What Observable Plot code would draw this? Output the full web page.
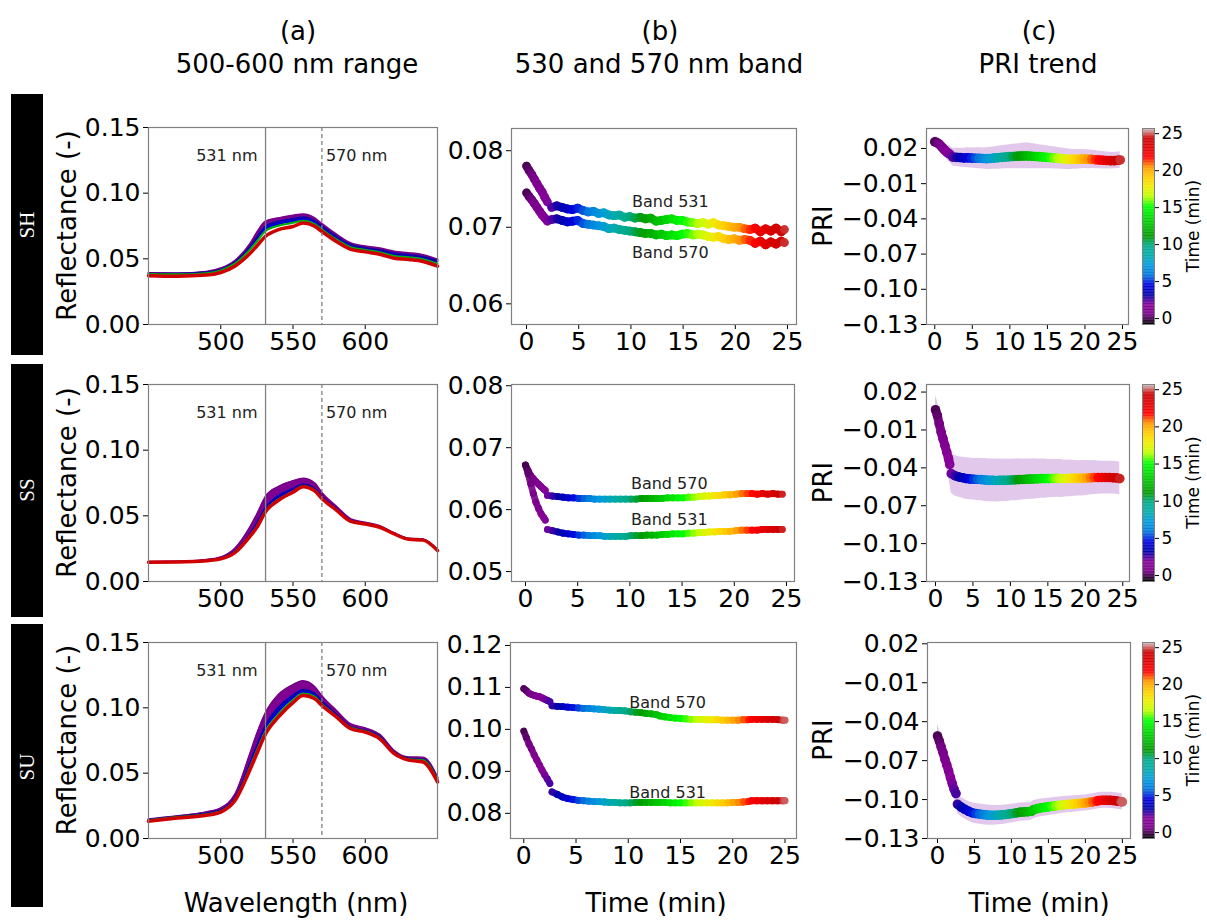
<!DOCTYPE html>
<html><head><meta charset="utf-8">
<script src="https://cdn.jsdelivr.net/npm/d3@7"></script>
<script src="https://cdn.jsdelivr.net/npm/@observablehq/plot@0.6"></script>
<style>
body{margin:0;background:#fff;}
#root{position:relative;width:1207px;height:921px;overflow:hidden;background:#fff;font-family:"DejaVu Sans";}
#root svg{max-width:none;}
</style></head><body><div id="root"></div>
<script>
// ---------- Column (a): spectra (wavelength grid + curves at t = 0, 3, 10, 24 min) ----------
const wl = [450, 470, 490, 500, 510, 520, 525, 531, 540, 550, 557, 565, 570, 580, 590, 600, 610, 620, 630, 640, 650];
const specTimes = [0, 3, 10, 24];
const shR0  = [0.0392,0.0390,0.0402,0.0428,0.0488,0.0610,0.0700,0.0785,0.0810,0.0830,0.0840,0.0810,0.0766,0.0686,0.0620,0.0596,0.0580,0.0556,0.0545,0.0530,0.0495];
const shR3  = [0.0388,0.0386,0.0397,0.0420,0.0475,0.0590,0.0665,0.0750,0.0784,0.0805,0.0817,0.0790,0.0750,0.0670,0.0607,0.0583,0.0567,0.0542,0.0531,0.0516,0.0483];
const shR10 = [0.0385,0.0382,0.0391,0.0412,0.0465,0.0568,0.0632,0.0712,0.0752,0.0774,0.0790,0.0765,0.0725,0.0648,0.0588,0.0568,0.0550,0.0522,0.0512,0.0497,0.0463];
const shR24 = [0.0372,0.0368,0.0376,0.0396,0.0446,0.0538,0.0598,0.0672,0.0722,0.0746,0.0772,0.0748,0.0708,0.0632,0.0572,0.0553,0.0535,0.0505,0.0495,0.0480,0.0445];
const ssR0  = [0.0150,0.0152,0.0166,0.0185,0.0254,0.0410,0.0510,0.0645,0.0722,0.0765,0.0785,0.0748,0.0675,0.0572,0.0475,0.0449,0.0424,0.0369,0.0328,0.0322,0.0242];
const ssR3  = [0.0148,0.0150,0.0161,0.0177,0.0234,0.0362,0.0448,0.0565,0.0655,0.0708,0.0740,0.0708,0.0648,0.0555,0.0465,0.0443,0.0418,0.0365,0.0325,0.0318,0.0238];
const ssR10 = [0.0147,0.0149,0.0159,0.0174,0.0226,0.0345,0.0418,0.0540,0.0625,0.0686,0.0727,0.0693,0.0635,0.0545,0.0460,0.0440,0.0415,0.0363,0.0323,0.0316,0.0236];
const ssR24 = [0.0146,0.0148,0.0158,0.0172,0.0222,0.0340,0.0412,0.0532,0.0618,0.0680,0.0722,0.0690,0.0632,0.0543,0.0458,0.0438,0.0413,0.0362,0.0322,0.0315,0.0235];
const suR0  = [0.0148,0.0172,0.0202,0.0232,0.0340,0.0640,0.0800,0.0960,0.1100,0.1175,0.1205,0.1160,0.1090,0.0978,0.0875,0.0845,0.0795,0.0672,0.0622,0.0620,0.0468];
const suR3  = [0.0143,0.0167,0.0193,0.0218,0.0312,0.0572,0.0715,0.0868,0.1005,0.1098,0.1138,0.1110,0.1052,0.0950,0.0855,0.0828,0.0778,0.0662,0.0612,0.0605,0.0455];
const suR10 = [0.0140,0.0164,0.0186,0.0210,0.0300,0.0540,0.0672,0.0820,0.0952,0.1060,0.1110,0.1085,0.1030,0.0938,0.0848,0.0822,0.0770,0.0656,0.0607,0.0598,0.0448];
const suR24 = [0.0132,0.0157,0.0178,0.0202,0.0292,0.0520,0.0650,0.0800,0.0930,0.1040,0.1094,0.1070,0.1018,0.0930,0.0840,0.0814,0.0763,0.0650,0.0600,0.0585,0.0433];

// ---------- SH: time series ----------
const tSH = [0,0.25,0.5,0.75,1,1.25,1.5,1.75,2,
 2.4,2.9,3.4,3.9,4.4,4.9,5.4,5.9,6.4,6.9,
 7.4,7.9,8.4,8.9,9.4,9.9,10.4,10.9,11.4,11.9,
 12.4,12.9,13.4,13.9,14.4,14.9,15.4,15.9,16.4,16.9,
 17.4,17.9,18.4,18.9,19.4,19.9,20.4,20.9,21.4,21.9,
 22.4,22.9,23.4,23.9,24.4,24.7];
const b531SH = [0.0780,0.0774,0.0769,0.0763,0.0757,0.0751,0.0746,0.0739,0.0733,
 0.0726,0.0728,0.0726,0.0724,0.0723,0.0725,0.0722,0.0720,0.0721,0.0718,
 0.0719,0.0716,0.0715,0.0716,0.0713,0.0714,0.0712,0.0713,0.0711,0.0712,
 0.0708,0.0709,0.0710,0.0711,0.0709,0.0709,0.0707,0.0706,0.0705,0.0706,
 0.0704,0.0706,0.0703,0.0702,0.0701,0.0700,0.0700,0.0698,0.0697,0.0699,
 0.0694,0.0698,0.0695,0.0699,0.0694,0.0697];
const b570SH = [0.0745,0.0740,0.0736,0.0731,0.0726,0.0721,0.0716,0.0712,0.0708,
 0.0710,0.0711,0.0709,0.0707,0.0708,0.0709,0.0705,0.0704,0.0703,0.0702,
 0.0701,0.0698,0.0699,0.0697,0.0696,0.0695,0.0694,0.0693,0.0692,0.0692,
 0.0690,0.0691,0.0689,0.0690,0.0689,0.0691,0.0692,0.0690,0.0691,0.0690,
 0.0688,0.0687,0.0688,0.0685,0.0684,0.0685,0.0683,0.0684,0.0683,0.0679,
 0.0682,0.0677,0.0681,0.0678,0.0682,0.0680];
const priSH = [0.0256,0.0250,0.0242,0.0226,0.0208,0.0190,0.0175,0.0162,0.0152,
 0.0126,0.0124,0.0122,0.0119,0.0120,0.0118,0.0117,0.0116,0.0114,0.0113,
 0.0115,0.0118,0.0121,0.0124,0.0127,0.0130,0.0131,0.0133,0.0135,0.0136,
 0.0136,0.0134,0.0132,0.0130,0.0127,0.0124,0.0122,0.0119,0.0116,0.0113,
 0.0110,0.0107,0.0107,0.0107,0.0109,0.0110,0.0108,0.0107,0.0104,0.0102,
 0.0100,0.0097,0.0096,0.0096,0.0099,0.0102];
const sdSH = [0.0045,0.0048,0.005,0.0053,0.0056,0.006,0.0063,0.0066,0.007,
 0.0075,0.0078,0.008,0.0082,0.0085,0.0085,0.0088,0.009,0.009,0.0092,
 0.0095,0.0095,0.0098,0.010,0.010,0.0102,0.0105,0.0105,0.0108,0.011,
 0.011,0.0108,0.0105,0.0102,0.010,0.0098,0.0095,0.0095,0.0092,0.009,
 0.009,0.0088,0.0085,0.0085,0.0082,0.008,0.008,0.0078,0.0078,0.0075,
 0.0075,0.0073,0.0072,0.007,0.007,0.007];

// ---------- SS: time series ----------
const tSS = [0,0.25,0.5,0.75,1,1.25,1.5,1.75,1.9,
 2.1,2.6,3.1,3.6,4.1,4.6,5.1,5.6,6.1,6.6,
 7.1,7.6,8.1,8.6,9.1,9.6,10.1,10.6,11.1,11.6,
 12.1,12.6,13.1,13.6,14.1,14.6,15.1,15.6,16.1,16.6,
 17.1,17.6,18.1,18.6,19.1,19.6,20.2,20.7,21.2,21.7,
 22.2,22.7,23.2,23.7,24.2,24.6];
const b570SS = [0.0672,0.0663,0.0655,0.0650,0.0645,0.0641,0.0637,0.0633,0.0631,
 0.0623,0.0622,0.0621,0.0620,0.0619,0.0619,0.0618,0.0618,0.0618,0.0617,
 0.0617,0.0617,0.0617,0.0617,0.0617,0.0617,0.0617,0.0617,0.0618,0.0618,
 0.0618,0.0618,0.0618,0.0619,0.0619,0.0619,0.0619,0.0620,0.0620,0.0621,
 0.0622,0.0622,0.0623,0.0623,0.0624,0.0624,0.0625,0.0626,0.0626,0.0626,
 0.0625,0.0626,0.0625,0.0626,0.0625,0.0625];
const b531SS = [0.0672,0.0658,0.0642,0.0626,0.0612,0.0602,0.0593,0.0587,0.0583,
 0.0568,0.0566,0.0564,0.0562,0.0561,0.0560,0.0559,0.0559,0.0558,0.0558,
 0.0558,0.0557,0.0557,0.0557,0.0557,0.0557,0.0558,0.0558,0.0558,0.0559,
 0.0559,0.0559,0.0560,0.0560,0.0561,0.0561,0.0561,0.0562,0.0562,0.0563,
 0.0563,0.0564,0.0564,0.0565,0.0565,0.0565,0.0566,0.0567,0.0567,0.0567,
 0.0567,0.0568,0.0568,0.0568,0.0568,0.0568];
const priSS = [0.0060,0.0015,-0.0051,-0.0117,-0.0169,-0.0222,-0.0275,-0.0328,-0.0373,
 -0.0446,-0.0462,-0.0472,-0.0478,-0.0485,-0.0488,-0.0490,-0.0492,-0.0493,-0.0496,
 -0.0499,-0.0499,-0.0500,-0.0499,-0.0499,-0.0498,-0.0496,-0.0495,-0.0493,-0.0492,
 -0.0490,-0.0489,-0.0488,-0.0487,-0.0485,-0.0485,-0.0485,-0.0484,-0.0483,-0.0484,
 -0.0485,-0.0484,-0.0483,-0.0483,-0.0483,-0.0482,-0.0480,-0.0479,-0.0477,-0.0477,
 -0.0477,-0.0477,-0.0477,-0.0478,-0.0480,-0.0485];
const sdSS = [0.011,0.0115,0.012,0.0125,0.013,0.0135,0.014,0.0145,0.015,
 0.0155,0.016,0.016,0.0162,0.0165,0.0165,0.0165,0.0168,0.0168,0.017,
 0.017,0.017,0.017,0.017,0.0168,0.0168,0.0165,0.0165,0.0165,0.0162,
 0.016,0.016,0.016,0.0158,0.0155,0.0155,0.0152,0.015,0.015,0.015,
 0.0148,0.0145,0.0145,0.0142,0.014,0.014,0.0138,0.0135,0.0135,0.0132,
 0.013,0.013,0.013,0.013,0.013,0.013];

// ---------- SU: time series ----------
const tSU = [0,0.25,0.5,0.75,1,1.25,1.5,1.75,2,2.25,2.5,
 2.7,3.2,3.7,4.2,4.7,5.2,5.7,6.2,6.7,7.2,
 7.7,8.2,8.7,9.2,9.7,10.2,10.7,11.2,11.7,12.2,
 12.7,13.0,13.5,14,14.5,15,15.5,16,16.5,17,
 17.5,18,18.5,19,19.5,20,20.5,21,21.5,21.8,
 22.3,22.8,23.3,23.8,24.3,24.8,25.0];
const b570SU = [0.1097,0.1092,0.1086,0.1083,0.1081,0.1079,0.1078,0.1075,0.1072,0.1069,0.1066,
 0.1056,0.1055,0.1054,0.1053,0.1052,0.1051,0.1050,0.1050,0.1049,0.1048,
 0.1047,0.1046,0.1045,0.1045,0.1044,0.1042,0.1041,0.1040,0.1038,0.1037,
 0.1035,0.1032,0.1030,0.1028,0.1027,0.1026,0.1025,0.1024,0.1024,0.1024,
 0.1023,0.1023,0.1023,0.1022,0.1022,0.1022,0.1022,0.1023,0.1023,0.1024,
 0.1024,0.1024,0.1024,0.1024,0.1023,0.1022,0.1022];
const b531SU = [0.0996,0.0980,0.0965,0.0953,0.0939,0.0927,0.0915,0.0903,0.0892,0.0882,0.0871,
 0.0851,0.0845,0.0839,0.0835,0.0833,0.0831,0.0830,0.0829,0.0828,0.0828,
 0.0827,0.0826,0.0826,0.0825,0.0825,0.0825,0.0826,0.0826,0.0826,0.0826,
 0.0826,0.0826,0.0826,0.0825,0.0825,0.0825,0.0825,0.0825,0.0825,0.0825,
 0.0825,0.0825,0.0825,0.0825,0.0825,0.0826,0.0826,0.0827,0.0828,0.0830,
 0.0830,0.0830,0.0830,0.0830,0.0830,0.0830,0.0830];
const priSU = [-0.0510,-0.0549,-0.0595,-0.0638,-0.0690,-0.0733,-0.0779,-0.0831,-0.0877,-0.0921,-0.0954,
 -0.1036,-0.1058,-0.1075,-0.1090,-0.1102,-0.1108,-0.1112,-0.1116,-0.1119,-0.1121,
 -0.1121,-0.1120,-0.1118,-0.1115,-0.1111,-0.1107,-0.1102,-0.1097,-0.1095,-0.1094,
 -0.1090,-0.1077,-0.1070,-0.1064,-0.1060,-0.1056,-0.1052,-0.1049,-0.1045,-0.1041,
 -0.1038,-0.1036,-0.1034,-0.1031,-0.1028,-0.1026,-0.1022,-0.1018,-0.1012,-0.1008,
 -0.1005,-0.1005,-0.1006,-0.1008,-0.1012,-0.1016,-0.1018];
const sdSU = [0.009,0.0088,0.0086,0.0084,0.0082,0.008,0.0078,0.0076,0.0074,0.0072,0.007,
 0.0072,0.0074,0.0075,0.0076,0.0077,0.0078,0.0078,0.0078,0.0078,0.0077,
 0.0076,0.0075,0.0074,0.0073,0.0072,0.0072,0.0071,0.0070,0.0070,0.0070,
 0.0070,0.0070,0.0069,0.0068,0.0068,0.0067,0.0066,0.0066,0.0065,0.0065,
 0.0064,0.0064,0.0063,0.0063,0.0062,0.0062,0.0062,0.0062,0.0062,0.0062,
 0.0062,0.0062,0.0062,0.0062,0.0062,0.0062,0.0062];

// time where the first (purple) recording segment ends in each row
const segBreaks = [2.2, 2.0, 2.6];

// ---------- labels ----------
const rowNames = ["SH", "SS", "SU"];
const colLetters = ["(a)", "(b)", "(c)"];
const colTitles = ["500-600 nm range", "530 and 570 nm band", "PRI trend"];
const xLabels = ["Wavelength (nm)", "Time (min)", "Time (min)"];
const wlTicks = [500, 550, 600];
const timeTicks = [0, 5, 10, 15, 20, 25];
const reflTicks = [0, 0.05, 0.10, 0.15];
const priTicks = [0.02, -0.01, -0.04, -0.07, -0.10, -0.13];
const cbTicks = [0, 5, 10, 15, 20, 25];

// ---------- colormap (nipy_spectral) ----------
const cbMin = -0.8, cbMax = 25.7;
const nipyColors = ["#000000","#770088","#880099","#0000aa","#0000dd","#0077dd","#0099dd","#00aaaa","#00aa88","#009900","#00bb00","#00dd00","#00ff00","#bbff00","#eeee00","#ffcc00","#ff9900","#ff0000","#dd0000","#cc0000","#cccccc"];
const nipy = d3.scaleLinear()
  .domain(nipyColors.map((_, i) => cbMin + i * (cbMax - cbMin) / 20))
  .range(nipyColors).interpolate(d3.interpolateRgb).clamp(true);

const root = document.getElementById("root");
const f2 = d3.format(".2f");
const fd = d3.format("d");
const FRAME = "#808080";

function panel(frame, m, opts) {
  const {style, ...rest} = opts;
  const svg = Plot.plot({
    width: frame[2] - frame[0] + m.l + m.r,
    height: frame[3] - frame[1] + m.t + m.b,
    marginLeft: m.l, marginRight: m.r, marginTop: m.t, marginBottom: m.b,
    style: Object.assign({fontFamily: "DejaVu Sans", fontSize: "25px", color: "#000", background: "none", overflow: "visible"}, style || {}),
    color: {type: "identity"},
    ...rest
  });
  svg.style.position = "absolute";
  svg.style.left = (frame[0] - m.l) + "px";
  svg.style.top = (frame[1] - m.t) + "px";
  svg.style.maxWidth = "none";
  root.appendChild(svg);
  return svg;
}

// thick connecting segments between consecutive samples (not across the recording break)
function trail(data, yKey, brk, w) {
  const pairs = d3.pairs(data).filter(([a, b]) => !(a.t < brk && b.t > brk));
  return Plot.link(pairs, {
    x1: p => p[0].t, y1: p => p[0][yKey], x2: p => p[1].t, y2: p => p[1][yKey],
    stroke: p => nipy((p[0].t + p[1].t) / 2), strokeWidth: w, strokeLinecap: "round", strokeOpacity: 0.9
  });
}

const mAB = {l: 75, r: 8, t: 8, b: 42};
const mC = {l: 95, r: 8, t: 8, b: 42};
const mCB = {l: 2, r: 40, t: 8, b: 8};

// Column (a)
function colA(frame, curves) {
  const data = wl.map((w, i) => ({w, a: curves[0][i], b: curves[1][i], c: curves[2][i], d: curves[3][i]}));
  const cv = "monotone-x";
  panel(frame, mAB, {
    x: {domain: [450, 650], ticks: wlTicks, tickSize: 5, tickPadding: 3, label: null, tickFormat: fd},
    y: {domain: [0, 0.15], ticks: reflTicks, tickSize: 5, tickPadding: 3, label: null, tickFormat: f2},
    marks: [
      Plot.areaY(data, {x: "w", y1: "a", y2: "b", fill: nipy(1.2), curve: cv}),
      Plot.areaY(data, {x: "w", y1: "b", y2: "c", fill: nipy(4.5), curve: cv}),
      Plot.line(data, {x: "w", y: "a", stroke: nipy(specTimes[0] + 0.6), strokeWidth: 2, curve: cv}),
      Plot.line(data, {x: "w", y: "b", stroke: nipy(specTimes[1]), strokeWidth: 2, curve: cv}),
      Plot.line(data, {x: "w", y: "c", stroke: nipy(specTimes[2] + 2), strokeWidth: 2, curve: cv}),
      Plot.line(data, {x: "w", y: "d", stroke: nipy(specTimes[3]), strokeWidth: 3.5, curve: cv}),
      Plot.ruleX([531], {stroke: FRAME, strokeWidth: 1.3}),
      Plot.ruleX([570], {stroke: FRAME, strokeWidth: 1.3, strokeDasharray: "4,3"}),
      Plot.text(["531 nm"], {x: 531, frameAnchor: "top", dy: 22, dx: -8, textAnchor: "end", fontSize: 16, fill: "#222"}),
      Plot.text(["570 nm"], {x: 570, frameAnchor: "top", dy: 22, dx: 4, textAnchor: "start", fontSize: 16, fill: "#222"}),
      Plot.frame({stroke: FRAME, strokeWidth: 1.2})
    ]
  });
}

// Column (b)
function colB(frame, xDom, yDom, yTicks, times, s531, s570, lab531, lab570, r, brk) {
  const d531 = times.map((t, i) => ({t, v: s531[i]})).filter(d => d.v != null);
  const d570 = times.map((t, i) => ({t, v: s570[i]})).filter(d => d.v != null);
  panel(frame, mAB, {
    x: {domain: xDom, ticks: timeTicks, tickSize: 5, tickPadding: 3, label: null, tickFormat: fd},
    y: {domain: yDom, ticks: yTicks, tickSize: 5, tickPadding: 3, label: null, tickFormat: f2},
    marks: [
      trail(d570, "v", brk, 2 * r),
      trail(d531, "v", brk, 2 * r),
      Plot.dot(d570, {x: "t", y: "v", r, fill: d => nipy(d.t), fillOpacity: 0.85, stroke: null}),
      Plot.dot(d531, {x: "t", y: "v", r, fill: d => nipy(d.t), fillOpacity: 0.85, stroke: null}),
      Plot.text(["Band 531"], {x: lab531[0], y: lab531[1], textAnchor: "start", fontSize: 16, fill: "#222"}),
      Plot.text(["Band 570"], {x: lab570[0], y: lab570[1], textAnchor: "start", fontSize: 16, fill: "#222"}),
      Plot.frame({stroke: FRAME, strokeWidth: 1.2})
    ]
  });
}

// Column (c)
function colC(frame, xDom, yDom, times, pri, sd, brk) {
  const data = times.map((t, i) => ({t, p: pri[i], s: sd[i]})).filter(d => d.p != null && d.s != null);
  panel(frame, mC, {
    x: {domain: xDom, ticks: timeTicks, tickSize: 5, tickPadding: 3, label: null, tickFormat: fd},
    y: {domain: yDom, ticks: priTicks, tickSize: 5, tickPadding: 3, label: null, tickFormat: f2},
    marks: [
      Plot.areaY(data, {x: "t", y1: d => d.p - d.s, y2: d => d.p + d.s, fill: "#e2c9ec"}),
      trail(data, "p", brk, 9),
      Plot.dot(data, {x: "t", y: "p", r: 4.8, fill: d => nipy(d.t), fillOpacity: 0.9, stroke: null}),
      Plot.frame({stroke: FRAME, strokeWidth: 1.2})
    ]
  });
}

// Colorbar
function colorbar(frame) {
  const step = 0.1;
  const cells = d3.range(cbMin, cbMax, step);
  panel(frame, mCB, {
    style: {fontSize: "17px"},
    x: {axis: null, domain: [0, 1]},
    y: {domain: [cbMin, cbMax], axis: "right", ticks: cbTicks, tickSize: 4, tickPadding: 3, label: null, tickFormat: fd},
    marks: [
      Plot.rect(cells, {x1: 0, x2: 1, y1: d => d, y2: d => Math.min(d + step * 1.3, cbMax), fill: d => nipy(d + step / 2)}),
      Plot.frame({stroke: FRAME, strokeWidth: 1})
    ]
  });
}

const framesA = [[148,127,437,324],[148,384,437,581],[148,642,437,838]];
const framesB = [[511,128,796,324],[511,384,794,581],[510,642,796,838]];
const framesC = [[926,128,1128,324],[926,384,1129,581],[927,642,1130,838]];
const framesCB = [[1142,128,1154,324],[1142,384,1154,581],[1142,642,1154,838]];

colA(framesA[0], [shR0, shR3, shR10, shR24]);
colA(framesA[1], [ssR0, ssR3, ssR10, ssR24]);
colA(framesA[2], [suR0, suR3, suR10, suR24]);

colB(framesB[0], [-1.44, 25.86], [0.0573, 0.0829], [0.06, 0.07, 0.08], tSH, b531SH, b570SH, [10.1, 0.0733], [10.1, 0.0666], 4.3, segBreaks[0]);
colB(framesB[1], [-1.34, 25.77], [0.0484, 0.0802], [0.05, 0.06, 0.07, 0.08], tSS, b531SS, b570SS, [10.1, 0.0583], [10.1, 0.0642], 3.4, segBreaks[1]);
colB(framesB[2], [-1.27, 26.1], [0.0740, 0.1207], [0.08, 0.09, 0.10, 0.11, 0.12], tSU, b531SU, b570SU, [10.1, 0.0849], [10.1, 0.1064], 3.4, segBreaks[2]);

colC(framesC[0], [-1.1, 25.8], [-0.13, 0.037], tSH, priSH, sdSH, segBreaks[0]);
colC(framesC[1], [-1.2, 25.9], [-0.13, 0.026], tSS, priSS, sdSS, segBreaks[1]);
colC(framesC[2], [-1.35, 26.1], [-0.13, 0.021], tSU, priSU, sdSU, segBreaks[2]);

framesCB.forEach(colorbar);

// ---------- overlay texts ----------
const ov = d3.select(root).append("svg")
  .attr("width", 1207).attr("height", 921)
  .style("position", "absolute").style("left", "0px").style("top", "0px")
  .style("pointer-events", "none").style("max-width", "none")
  .attr("font-family", "DejaVu Sans");

const colCenters = [298, 660, 1039];
colLetters.forEach((s, i) => ov.append("text").attr("x", colCenters[i]).attr("y", 40).attr("text-anchor", "middle").attr("font-size", 26).text(s));
colTitles.forEach((s, i) => ov.append("text").attr("x", colCenters[i] - 1).attr("y", 73).attr("text-anchor", "middle").attr("font-size", 26).text(s));
const xLabCenters = [296, 656, 1039];
xLabels.forEach((s, i) => ov.append("text").attr("x", xLabCenters[i]).attr("y", 912).attr("text-anchor", "middle").attr("font-size", 26).text(s));

const tagBoxes = [[94, 355], [364, 617], [624, 907]];
rowNames.forEach((s, i) => {
  const [y0, y1] = tagBoxes[i];
  ov.append("rect").attr("x", 11).attr("y", y0).attr("width", 32).attr("height", y1 - y0).attr("fill", "#000");
  const cy = [225, 490, 767][i];
  ov.append("text").attr("transform", `translate(27,${cy}) rotate(-90)`)
    .attr("text-anchor", "middle").attr("dominant-baseline", "central")
    .attr("font-family", "Liberation Serif").attr("font-size", 21).attr("fill", "#fff").text(s);
});

framesA.forEach(f => {
  const cy = (f[1] + f[3]) / 2;
  ov.append("text").attr("transform", `translate(76,${cy}) rotate(-90)`).attr("text-anchor", "middle").attr("font-size", 26).text("Reflectance (-)");
});
framesC.forEach(f => {
  const cy = (f[1] + f[3]) / 2;
  ov.append("text").attr("transform", `translate(832,${cy}) rotate(-90)`).attr("text-anchor", "middle").attr("font-size", 26).text("PRI");
});
framesCB.forEach(f => {
  const cy = (f[1] + f[3]) / 2;
  ov.append("text").attr("transform", `translate(1199,${cy}) rotate(-90)`).attr("text-anchor", "middle").attr("font-size", 17).text("Time (min)");
});
</script></body></html>
